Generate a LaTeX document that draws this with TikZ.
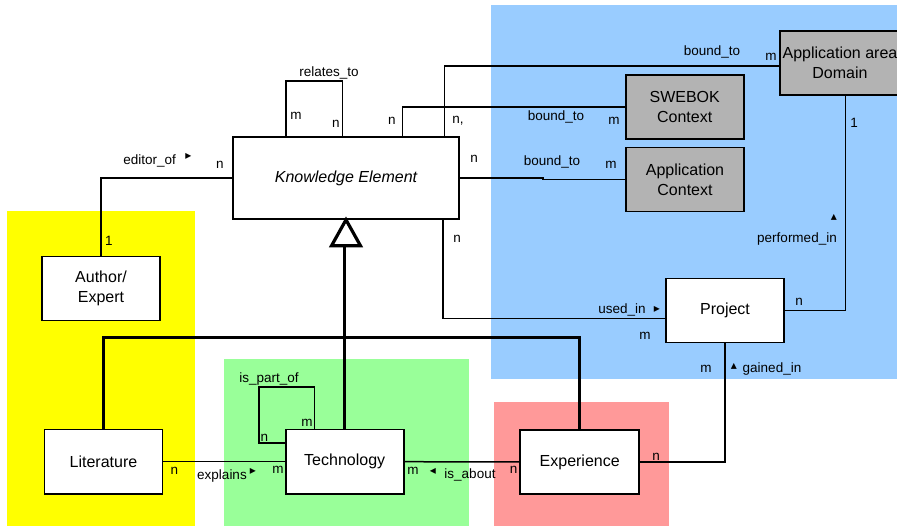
\documentclass[tikz,border=0pt]{standalone}
\usepackage{fontspec}
\setmainfont{Liberation Sans}
\newfontfamily\symfont{DejaVu Sans}
\definecolor{ybg}{HTML}{FFFF00}
\definecolor{gbg}{HTML}{99FF99}
\definecolor{bbg}{HTML}{99CCFF}
\definecolor{rbg}{HTML}{FF9999}
\definecolor{boxgray}{RGB}{179,179,179}
\begin{document}
\begin{tikzpicture}[x=1pt,y=-1pt,
  box/.style={draw,line width=1.6pt,fill=white,minimum width=118pt,minimum height=64pt,inner sep=0pt,align=center,font=\fontsize{16}{20}\selectfont},
  gbox/.style={box,fill=boxgray},
  conn/.style={line width=1.5pt},
  inh/.style={line width=3.2pt},
  lab/.style={inner sep=0pt,font=\fontsize{13.5}{16}\selectfont},
  tri/.style={inner sep=0pt,font=\symfont\fontsize{12}{12}\selectfont}]
\useasboundingbox (0,0) rectangle (897,526);
\clip (0,0) rectangle (897,526);
% background areas
\fill[ybg] (7,211) rectangle (195,526);
\fill[gbg] (224,359) rectangle (469,526);
\fill[bbg] (491,5) rectangle (897,379);
\fill[rbg] (494,402) rectangle (669,526);
% classes
\node[box,minimum width=226pt,minimum height=82pt,font=\fontsize{16}{20}\selectfont\itshape] (ke) at (346,178) {Knowledge Element};
\node[box] (auth) at (101,288.5) {Author/\\Expert};
\node[box] (lit) at (103.5,461.7) {Literature};
\node[box] (tech) at (344.7,461.7) {Technology};
\node[box,minimum width=119pt] (exp) at (579.7,462) {Experience};
\node[box] (proj) at (725,310.7) {Project};
\node[gbox] (swe) at (684.7,106.8) {SWEBOK\\Context};
\node[gbox] (appc) at (685,179.5) {Application\\Context};
\node[gbox,minimum width=120pt] (dom) at (840,63) {Application area\\Domain};
% waypoints
\coordinate (r1) at (286,81);
\coordinate (r2) at (342.7,81);
\coordinate (s1) at (402.7,107);
\coordinate (s2) at (444.5,66);
\coordinate (s3) at (443,318.7);
\coordinate (s4) at (845.7,200);
\coordinate (p0) at (0,443);
\coordinate (p1) at (259,387);
\coordinate (p2) at (314.7,387);
\coordinate (bus) at (0,337.3);
% associations
\draw[conn] (ke.north -| r1) |- (r2) -- (ke.north -| r2);
\draw[conn] (ke.north -| s1) |- (swe.west);
\draw[conn] (ke.north -| s2) |- (dom.west |- s2);
\draw[conn] (ke.east) -- ++(83,0) |- (appc.west);
\draw[conn] (ke.south -| s3) |- (proj.west |- s3);
\draw[conn] (dom.south -| s4) |- (proj.east);
\draw[conn] (proj.south) |- (exp.east);
\draw[conn] (auth.north) |- (ke.west);
\draw[conn] (lit.east) -- (tech.west);
\draw[conn] (tech.east) -- (exp.west);
\draw[conn] (tech.west |- p0) -| (p1) -- (p2) -- (tech.north -| p2);
% inheritance
\draw[inh] (lit.north) |- (bus -| exp.north) -- (exp.north);
\draw[inh] (tech.north) -- (tech.north |- 0,245);
\draw[inh,fill=white,line join=miter] (ke.south) -- ++(-14.5,26) -- ++(29,0) -- cycle;
% labels
\node[lab] (l1) at (329,73) {relates\_to};
\node[lab] (l2) at (296,116) {m};
\node[lab] (l3) at (336,124) {n};
\node[lab] (l4) at (392,121) {n};
\node[lab] (l5) at (556,117) {bound\_to};
\node[lab] (l6) at (614,121) {m};
\node[lab] (l7) at (458,121) {n,};
\node[lab] (l8) at (712,52) {bound\_to};
\node[lab] (l9) at (771,57) {m};
\node[lab] (l10) at (474,159) {n};
\node[lab] (l11) at (552,162) {bound\_to};
\node[lab] (l12) at (611,165) {m};
\node[lab] (l13) at (457,239) {n};
\node[lab] (l14) at (622,309.5) {used\_in};
\node[tri] (t1) at (657,309.5) {▸};
\node[lab] (l15) at (645,336) {m};
\node[lab] (l16) at (854,123) {1};
\node[tri] (t2) at (834,217) {▴};
\node[lab] (l17) at (797,239) {performed\_in};
\node[lab] (l18) at (799,302) {n};
\node[lab] (l19) at (706,369) {m};
\node[tri] (t3) at (734,366) {▴};
\node[lab] (l20) at (772,369.5) {gained\_in};
\node[lab] (l21) at (656,457) {n};
\node[lab] (l22) at (109,241) {1};
\node[lab] (l23) at (149.6,161) {editor\_of};
\node[tri] (t4) at (188.5,156) {▸};
\node[lab] (l24) at (220,165) {n};
\node[lab] (l25) at (269,379) {is\_part\_of};
\node[lab] (l26) at (307,423) {m};
\node[lab] (l27) at (264.5,438) {n};
\node[lab] (l28) at (174.5,471) {n};
\node[lab] (l29) at (222,476) {explains};
\node[tri] (t5) at (253,471) {▸};
\node[lab] (l30) at (278,470) {m};
\node[lab] (l31) at (413,471) {m};
\node[tri] (t6) at (433,471) {◂};
\node[lab] (l32) at (470,475) {is\_about};
\node[lab] (l33) at (513.5,470) {n};
\end{tikzpicture}
\end{document}
